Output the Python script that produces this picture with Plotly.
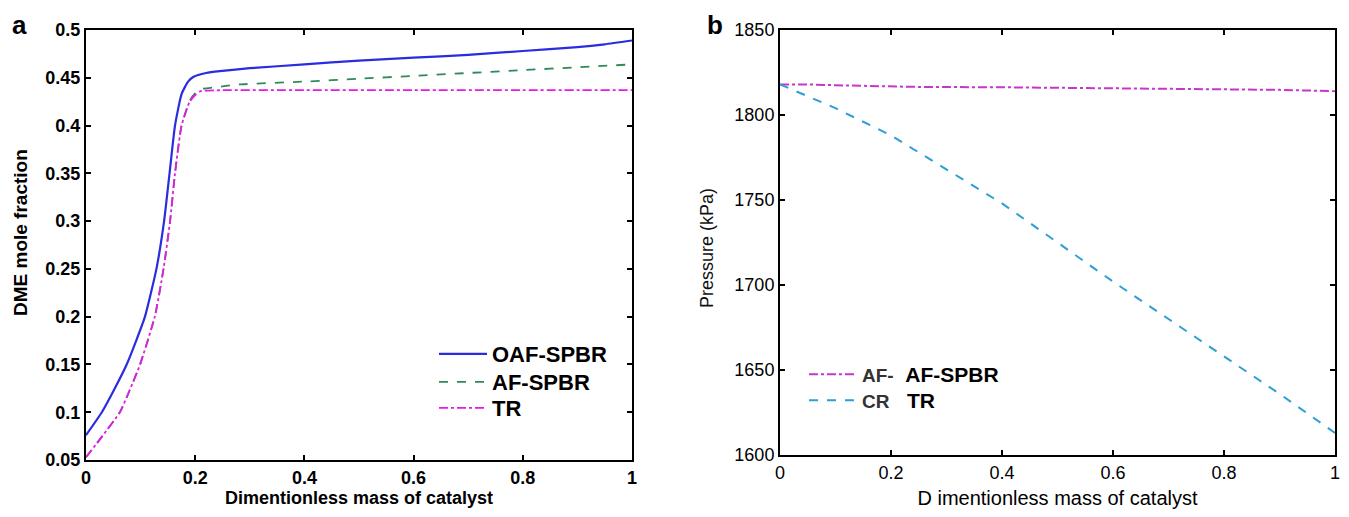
import plotly.graph_objects as go

# ---- Panel a data ----
oaf_x = [0, 0.029, 0.05, 0.0745, 0.092, 0.108, 0.129, 0.143, 0.153, 0.163, 0.175, 0.187, 0.197, 0.22, 0.245, 0.3, 0.4, 0.5, 0.6, 0.7, 0.8, 0.9, 0.95, 1.0]
oaf_y = [0.076, 0.1, 0.122, 0.15, 0.175, 0.2, 0.25, 0.3, 0.35, 0.4, 0.433, 0.446, 0.451, 0.455, 0.457, 0.460, 0.464, 0.468, 0.471, 0.474, 0.478, 0.482, 0.485, 0.489]

af_x = [0, 0.03, 0.062, 0.08, 0.099, 0.126, 0.142, 0.154, 0.163, 0.175, 0.19, 0.2, 0.21, 0.25, 0.28, 0.4, 0.5, 0.6, 0.7, 0.8, 0.9, 1.0]
af_y = [0.053, 0.075, 0.1, 0.123, 0.15, 0.2, 0.25, 0.3, 0.35, 0.4, 0.426, 0.434, 0.438, 0.441, 0.443, 0.446, 0.449, 0.452, 0.455, 0.458, 0.461, 0.464]

tr_x = [0, 0.03, 0.062, 0.08, 0.099, 0.126, 0.142, 0.154, 0.163, 0.175, 0.19, 0.2, 0.21, 0.25, 0.4, 0.6, 0.8, 1.0]
tr_y = [0.053, 0.075, 0.1, 0.123, 0.15, 0.2, 0.25, 0.3, 0.35, 0.4, 0.425, 0.432, 0.436, 0.437, 0.437, 0.437, 0.437, 0.437]

# ---- Panel b data ----
afb_x = [0, 0.05, 0.1, 0.2, 0.25, 0.4, 0.6, 0.8, 0.9, 1.0]
afb_y = [1818, 1818, 1817.5, 1817, 1816.5, 1816.3, 1815.8, 1815.2, 1814.8, 1814]

cr_x = [0, 0.1, 0.2, 0.3, 0.4, 0.5, 0.6, 0.7, 0.8, 0.9, 1.0]
cr_y = [1818, 1804, 1788, 1768, 1748, 1725, 1702, 1680, 1658, 1636, 1613]

xa_ticks = [0, 0.2, 0.4, 0.6, 0.8, 1]
xa_text = ["0", "0.2", "0.4", "0.6", "0.8", "1"]
ya_ticks = [0.05, 0.1, 0.15, 0.2, 0.25, 0.3, 0.35, 0.4, 0.45, 0.5]
ya_text = ["0.05", "0.1", "0.15", "0.2", "0.25", "0.3", "0.35", "0.4", "0.45", "0.5"]
yb_ticks = [1600, 1650, 1700, 1750, 1800, 1850]
yb_text = ["1600", "1650", "1700", "1750", "1800", "1850"]

FONT = "Liberation Sans, Arial, sans-serif"

# page body has an 8px margin: build the figure to fit inside it
OFF = 8
W, H = 1349 - 2 * OFF, 517 - 2 * OFF


def px(xp):
    return (xp - OFF) / W


def py(yp):
    return 1 - (yp - OFF) / H


fig = go.Figure()
fig.add_trace(go.Scatter(x=oaf_x, y=oaf_y, mode="lines", name="OAF-SPBR", showlegend=True,
                         line=dict(color="#2b2be0", width=2.2, shape="spline", smoothing=0.5),
                         xaxis="x", yaxis="y", legend="legend"))
fig.add_trace(go.Scatter(x=af_x, y=af_y, mode="lines", name="AF-SPBR", showlegend=True,
                         line=dict(color="#2e8a57", width=1.8, dash="dash", shape="spline", smoothing=0.5),
                         xaxis="x", yaxis="y", legend="legend2"))
fig.add_trace(go.Scatter(x=tr_x, y=tr_y, mode="lines", name="TR", showlegend=True,
                         line=dict(color="#e619e6", width=1.8, dash="dashdot", shape="spline", smoothing=0.5),
                         xaxis="x", yaxis="y", legend="legend3"))
fig.add_trace(go.Scatter(x=afb_x, y=afb_y, mode="lines", showlegend=True,
                         name="<span style='font-size:19px;color:#333'>AF-</span>&nbsp;&nbsp;AF-SPBR",
                         line=dict(color="#cc33cc", width=2, dash="dashdot"),
                         xaxis="x2", yaxis="y2", legend="legend4"))
fig.add_trace(go.Scatter(x=cr_x, y=cr_y, mode="lines", showlegend=True,
                         name="<span style='font-size:19px;color:#333'>CR</span>&nbsp;&nbsp;&nbsp;TR",
                         line=dict(color="#2e9ed6", width=2, dash="dash"),
                         xaxis="x2", yaxis="y2", legend="legend5"))

axis_common = dict(showline=True, linecolor="black", linewidth=2, mirror="allticks",
                   ticks="inside", ticklen=5, tickwidth=1.5, tickcolor="black",
                   showgrid=False, zeroline=False, automargin=False,
                   ticklabeloverflow="allow")


def leg(xp, yc, size):
    return dict(x=px(xp), y=py(yc - size), xanchor="left", yanchor="top",
                bgcolor="rgba(0,0,0,0)", font=dict(size=size, family=FONT, weight="bold"),
                tracegroupgap=0, itemwidth=48)


fig.update_layout(
    width=W, height=H,
    margin=dict(l=0, r=0, t=0, b=0),
    showlegend=True,
    paper_bgcolor="white", plot_bgcolor="white",
    font=dict(family=FONT, color="black"),
    xaxis=dict(domain=[px(86), px(632)], range=[0, 1], tickvals=xa_ticks, ticktext=xa_text,
               tickfont=dict(size=18, family=FONT, weight="bold"),
               title=dict(text="<b>Dimentionless mass of catalyst</b>", font=dict(size=18), standoff=0),
               anchor="y", **axis_common),
    yaxis=dict(domain=[py(460), py(30)], range=[0.05, 0.5], tickvals=ya_ticks, ticktext=ya_text,
               tickfont=dict(size=18, family=FONT, weight="bold"),
               anchor="x", **axis_common),
    xaxis2=dict(domain=[px(780), px(1335)], range=[0, 1], tickvals=xa_ticks, ticktext=xa_text,
                tickfont=dict(size=18, family=FONT),
                title=dict(text="D imentionless mass of catalyst", font=dict(size=20), standoff=9),
                anchor="y2", **axis_common),
    yaxis2=dict(domain=[py(455), py(30)], range=[1600, 1850], tickvals=yb_ticks, ticktext=yb_text,
                tickfont=dict(size=18, family=FONT),
                anchor="x2", **axis_common),
    legend=leg(434, 355, 22),
    legend2=leg(434, 383, 22),
    legend3=leg(434, 409, 22),
    legend4=leg(804, 375, 21),
    legend5=leg(804, 401, 21),
    annotations=[
        dict(text="<b>a</b>", x=px(10), y=py(8), xref="paper", yref="paper",
             xanchor="left", yanchor="top", showarrow=False, font=dict(size=26, family=FONT)),
        dict(text="<b>b</b>", x=px(705), y=py(8), xref="paper", yref="paper",
             xanchor="left", yanchor="top", showarrow=False, font=dict(size=26, family=FONT)),
        dict(text="<b>DME mole fraction</b>", x=px(20), y=py(233), xref="paper", yref="paper",
             xanchor="center", yanchor="middle", textangle=-90, showarrow=False,
             font=dict(size=19, family=FONT)),
        dict(text="Pressure (kPa)", x=px(707), y=py(248), xref="paper", yref="paper",
             xanchor="center", yanchor="middle", textangle=-90, showarrow=False,
             font=dict(size=18, family=FONT, color="#111")),
    ],
)

fig.write_html("out.html")
